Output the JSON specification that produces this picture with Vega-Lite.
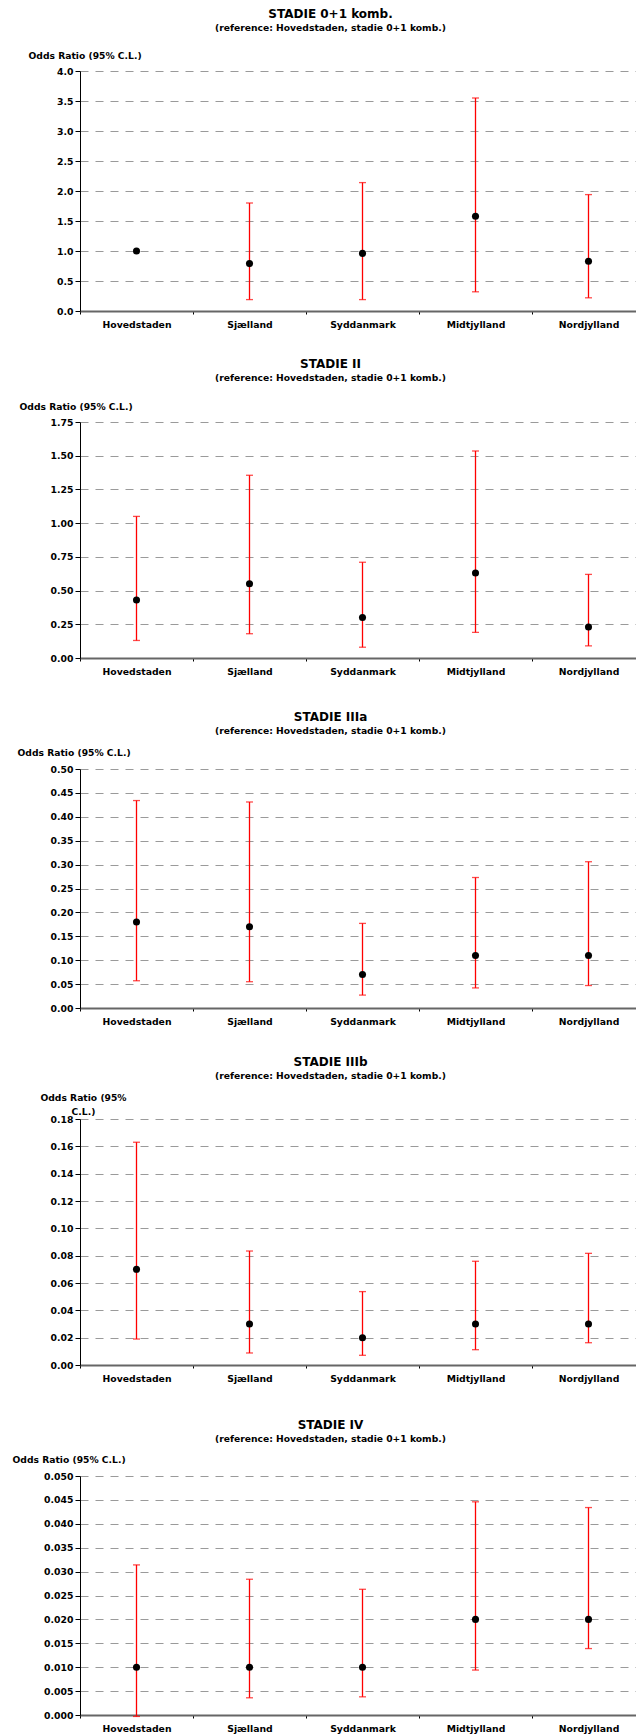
{
  "$schema": "https://vega.github.io/schema/vega-lite/v6.json",
  "padding": {"left": 12, "right": -10, "top": 7, "bottom": 0},
  "background": "white",
  "config": {
    "view": {"stroke": null},
    "font": "DejaVu Sans",
    "title": {"font": "DejaVu Sans", "fontSize": 12, "fontWeight": "bold", "color": "#000", "subtitleFont": "DejaVu Sans", "subtitleFontSize": 9.2, "subtitleFontWeight": "bold", "subtitleColor": "#000", "subtitlePadding": 3, "frame": "group", "anchor": "middle", "dx": -32, "offset": 16},
    "axisY": {"grid": true, "gridColor": "#9a9a9a", "gridDash": [8, 7], "gridWidth": 1.2, "domainColor": "#000", "domainWidth": 1, "tickColor": "#000", "tickSize": 5, "labelPadding": 2, "labelOverlap": false, "labelFont": "DejaVu Sans", "labelFontWeight": "bold", "labelFontSize": 9.3, "labelColor": "#000", "titleFont": "DejaVu Sans", "titleFontWeight": "bold", "titleFontSize": 9.2, "titleColor": "#000", "titleAngle": 0, "titleAlign": "left", "titleBaseline": "middle"},
    "axisX": {"grid": false, "tickBand": "extent", "domainColor": "#666", "domainWidth": 2, "tickColor": "#000", "tickSize": 3, "labelPadding": 6, "labelAngle": 0, "labelOverlap": false, "labelFont": "DejaVu Sans", "labelFontWeight": "bold", "labelFontSize": 9.3, "labelColor": "#000", "title": null}
  },
  "bounds": "flush",
  "spacing": 111,
  "vconcat": [
    {
      "width": 565, "height": 240,
      "title": {"text": "STADIE 0+1 komb.", "subtitle": "(reference: Hovedstaden, stadie 0+1 komb.)", "offset": 17},
      "data": {"values": [
        {"region": "Hovedstaden", "or": 1.0, "lo": null, "hi": null},
        {"region": "Sjælland", "or": 0.79, "lo": 0.19, "hi": 1.80},
        {"region": "Syddanmark", "or": 0.96, "lo": 0.19, "hi": 2.14},
        {"region": "Midtjylland", "or": 1.58, "lo": 0.32, "hi": 3.55},
        {"region": "Nordjylland", "or": 0.83, "lo": 0.22, "hi": 1.94}
      ]},
      "encoding": {"x": {"field": "region", "type": "nominal", "sort": null, "scale": {"type": "band", "paddingInner": 0, "paddingOuter": 0, "domain": ["Hovedstaden", "Sjælland", "Syddanmark", "Midtjylland", "Nordjylland"]}}},
      "layer": [
        {"mark": {"type": "rule", "color": "#ff0000", "strokeWidth": 1.3},
         "encoding": {"y": {"field": "lo", "type": "quantitative", "title": "Odds Ratio (95% C.L.)", "scale": {"domain": [0, 4], "nice": false}, "axis": {"values": [0, 0.5, 1, 1.5, 2, 2.5, 3, 3.5, 4], "format": ".1f", "titleX": -52, "titleY": -16}}, "y2": {"field": "hi"}}},
        {"mark": {"type": "tick", "color": "#ff0000", "size": 7, "thickness": 1.3}, "encoding": {"y": {"field": "lo", "type": "quantitative", "title": "Odds Ratio (95% C.L.)", "axis": {"values": [0, 0.5, 1, 1.5, 2, 2.5, 3, 3.5, 4], "format": ".1f", "titleX": -52, "titleY": -16}}}},
        {"mark": {"type": "tick", "color": "#ff0000", "size": 7, "thickness": 1.3}, "encoding": {"y": {"field": "hi", "type": "quantitative", "title": "Odds Ratio (95% C.L.)", "axis": {"values": [0, 0.5, 1, 1.5, 2, 2.5, 3, 3.5, 4], "format": ".1f", "titleX": -52, "titleY": -16}}}},
        {"mark": {"type": "point", "filled": true, "color": "#000", "opacity": 1, "size": 50}, "encoding": {"y": {"field": "or", "type": "quantitative", "title": "Odds Ratio (95% C.L.)", "axis": {"values": [0, 0.5, 1, 1.5, 2, 2.5, 3, 3.5, 4], "format": ".1f", "titleX": -52, "titleY": -16}}}}
      ]
    },
    {
      "width": 565, "height": 236,
      "title": {"text": "STADIE II", "subtitle": "(reference: Hovedstaden, stadie 0+1 komb.)", "offset": 18},
      "data": {"values": [
        {"region": "Hovedstaden", "or": 0.43, "lo": 0.13, "hi": 1.05},
        {"region": "Sjælland", "or": 0.55, "lo": 0.18, "hi": 1.355},
        {"region": "Syddanmark", "or": 0.30, "lo": 0.08, "hi": 0.71},
        {"region": "Midtjylland", "or": 0.63, "lo": 0.19, "hi": 1.535},
        {"region": "Nordjylland", "or": 0.23, "lo": 0.09, "hi": 0.62}
      ]},
      "encoding": {"x": {"field": "region", "type": "nominal", "sort": null, "scale": {"type": "band", "paddingInner": 0, "paddingOuter": 0, "domain": ["Hovedstaden", "Sjælland", "Syddanmark", "Midtjylland", "Nordjylland"]}}},
      "layer": [
        {"mark": {"type": "rule", "color": "#ff0000", "strokeWidth": 1.3},
         "encoding": {"y": {"field": "lo", "type": "quantitative", "title": "Odds Ratio (95% C.L.)", "scale": {"domain": [0, 1.75], "nice": false}, "axis": {"values": [0, 0.25, 0.5, 0.75, 1, 1.25, 1.5, 1.75], "format": ".2f", "titleX": -61, "titleY": -16}}, "y2": {"field": "hi"}}},
        {"mark": {"type": "tick", "color": "#ff0000", "size": 7, "thickness": 1.3}, "encoding": {"y": {"field": "lo", "type": "quantitative", "title": "Odds Ratio (95% C.L.)", "axis": {"values": [0, 0.25, 0.5, 0.75, 1, 1.25, 1.5, 1.75], "format": ".2f", "titleX": -61, "titleY": -16}}}},
        {"mark": {"type": "tick", "color": "#ff0000", "size": 7, "thickness": 1.3}, "encoding": {"y": {"field": "hi", "type": "quantitative", "title": "Odds Ratio (95% C.L.)", "axis": {"values": [0, 0.25, 0.5, 0.75, 1, 1.25, 1.5, 1.75], "format": ".2f", "titleX": -61, "titleY": -16}}}},
        {"mark": {"type": "point", "filled": true, "color": "#000", "opacity": 1, "size": 50}, "encoding": {"y": {"field": "or", "type": "quantitative", "title": "Odds Ratio (95% C.L.)", "axis": {"values": [0, 0.25, 0.5, 0.75, 1, 1.25, 1.5, 1.75], "format": ".2f", "titleX": -61, "titleY": -16}}}}
      ]
    },
    {
      "width": 565, "height": 239,
      "title": {"text": "STADIE IIIa", "subtitle": "(reference: Hovedstaden, stadie 0+1 komb.)", "offset": 11},
      "data": {"values": [
        {"region": "Hovedstaden", "or": 0.18, "lo": 0.057, "hi": 0.434},
        {"region": "Sjælland", "or": 0.17, "lo": 0.055, "hi": 0.431},
        {"region": "Syddanmark", "or": 0.07, "lo": 0.027, "hi": 0.177},
        {"region": "Midtjylland", "or": 0.11, "lo": 0.042, "hi": 0.273},
        {"region": "Nordjylland", "or": 0.11, "lo": 0.047, "hi": 0.306}
      ]},
      "encoding": {"x": {"field": "region", "type": "nominal", "sort": null, "scale": {"type": "band", "paddingInner": 0, "paddingOuter": 0, "domain": ["Hovedstaden", "Sjælland", "Syddanmark", "Midtjylland", "Nordjylland"]}}},
      "layer": [
        {"mark": {"type": "rule", "color": "#ff0000", "strokeWidth": 1.3},
         "encoding": {"y": {"field": "lo", "type": "quantitative", "title": "Odds Ratio (95% C.L.)", "scale": {"domain": [0, 0.5], "nice": false}, "axis": {"values": [0, 0.05, 0.1, 0.15, 0.2, 0.25, 0.3, 0.35, 0.4, 0.45, 0.5], "format": ".2f", "titleX": -63, "titleY": -17}}, "y2": {"field": "hi"}}},
        {"mark": {"type": "tick", "color": "#ff0000", "size": 7, "thickness": 1.3}, "encoding": {"y": {"field": "lo", "type": "quantitative", "title": "Odds Ratio (95% C.L.)", "axis": {"values": [0, 0.05, 0.1, 0.15, 0.2, 0.25, 0.3, 0.35, 0.4, 0.45, 0.5], "format": ".2f", "titleX": -63, "titleY": -17}}}},
        {"mark": {"type": "tick", "color": "#ff0000", "size": 7, "thickness": 1.3}, "encoding": {"y": {"field": "hi", "type": "quantitative", "title": "Odds Ratio (95% C.L.)", "axis": {"values": [0, 0.05, 0.1, 0.15, 0.2, 0.25, 0.3, 0.35, 0.4, 0.45, 0.5], "format": ".2f", "titleX": -63, "titleY": -17}}}},
        {"mark": {"type": "point", "filled": true, "color": "#000", "opacity": 1, "size": 50}, "encoding": {"y": {"field": "or", "type": "quantitative", "title": "Odds Ratio (95% C.L.)", "axis": {"values": [0, 0.05, 0.1, 0.15, 0.2, 0.25, 0.3, 0.35, 0.4, 0.45, 0.5], "format": ".2f", "titleX": -63, "titleY": -17}}}}
      ]
    },
    {
      "width": 565, "height": 246,
      "title": {"text": "STADIE IIIb", "subtitle": "(reference: Hovedstaden, stadie 0+1 komb.)", "offset": 11},
      "data": {"values": [
        {"region": "Hovedstaden", "or": 0.07, "lo": 0.019, "hi": 0.163},
        {"region": "Sjælland", "or": 0.03, "lo": 0.0088, "hi": 0.0834},
        {"region": "Syddanmark", "or": 0.02, "lo": 0.0071, "hi": 0.0537},
        {"region": "Midtjylland", "or": 0.03, "lo": 0.0112, "hi": 0.0759},
        {"region": "Nordjylland", "or": 0.03, "lo": 0.0163, "hi": 0.0817}
      ]},
      "encoding": {"x": {"field": "region", "type": "nominal", "sort": null, "scale": {"type": "band", "paddingInner": 0, "paddingOuter": 0, "domain": ["Hovedstaden", "Sjælland", "Syddanmark", "Midtjylland", "Nordjylland"]}}},
      "layer": [
        {"mark": {"type": "rule", "color": "#ff0000", "strokeWidth": 1.3},
         "encoding": {"y": {"field": "lo", "type": "quantitative", "title": ["Odds Ratio (95%", "C.L.)"], "scale": {"domain": [0, 0.18], "nice": false}, "axis": {"values": [0, 0.02, 0.04, 0.06, 0.08, 0.1, 0.12, 0.14, 0.16, 0.18], "format": ".2f", "titleX": 3, "titleY": -22, "titleAlign": "center", "titleLineHeight": 14}}, "y2": {"field": "hi"}}},
        {"mark": {"type": "tick", "color": "#ff0000", "size": 7, "thickness": 1.3}, "encoding": {"y": {"field": "lo", "type": "quantitative", "title": ["Odds Ratio (95%", "C.L.)"], "axis": {"values": [0, 0.02, 0.04, 0.06, 0.08, 0.1, 0.12, 0.14, 0.16, 0.18], "format": ".2f", "titleX": 3, "titleY": -22, "titleAlign": "center", "titleLineHeight": 14}}}},
        {"mark": {"type": "tick", "color": "#ff0000", "size": 7, "thickness": 1.3}, "encoding": {"y": {"field": "hi", "type": "quantitative", "title": ["Odds Ratio (95%", "C.L.)"], "axis": {"values": [0, 0.02, 0.04, 0.06, 0.08, 0.1, 0.12, 0.14, 0.16, 0.18], "format": ".2f", "titleX": 3, "titleY": -22, "titleAlign": "center", "titleLineHeight": 14}}}},
        {"mark": {"type": "point", "filled": true, "color": "#000", "opacity": 1, "size": 50}, "encoding": {"y": {"field": "or", "type": "quantitative", "title": ["Odds Ratio (95%", "C.L.)"], "axis": {"values": [0, 0.02, 0.04, 0.06, 0.08, 0.1, 0.12, 0.14, 0.16, 0.18], "format": ".2f", "titleX": 3, "titleY": -22, "titleAlign": "center", "titleLineHeight": 14}}}}
      ]
    },
    {
      "width": 565, "height": 239,
      "title": {"text": "STADIE IV", "subtitle": "(reference: Hovedstaden, stadie 0+1 komb.)", "offset": 10},
      "data": {"values": [
        {"region": "Hovedstaden", "or": 0.01, "lo": -0.0003, "hi": 0.0314},
        {"region": "Sjælland", "or": 0.01, "lo": 0.0036, "hi": 0.0284},
        {"region": "Syddanmark", "or": 0.01, "lo": 0.0038, "hi": 0.0263},
        {"region": "Midtjylland", "or": 0.02, "lo": 0.0094, "hi": 0.0446},
        {"region": "Nordjylland", "or": 0.02, "lo": 0.0139, "hi": 0.0434}
      ]},
      "encoding": {"x": {"field": "region", "type": "nominal", "sort": null, "scale": {"type": "band", "paddingInner": 0, "paddingOuter": 0, "domain": ["Hovedstaden", "Sjælland", "Syddanmark", "Midtjylland", "Nordjylland"]}}},
      "layer": [
        {"mark": {"type": "rule", "color": "#ff0000", "strokeWidth": 1.3},
         "encoding": {"y": {"field": "lo", "type": "quantitative", "title": "Odds Ratio (95% C.L.)", "scale": {"domain": [0, 0.05], "nice": false}, "axis": {"values": [0, 0.005, 0.01, 0.015, 0.02, 0.025, 0.03, 0.035, 0.04, 0.045, 0.05], "format": ".3f", "titleX": -68, "titleY": -17}}, "y2": {"field": "hi"}}},
        {"mark": {"type": "tick", "color": "#ff0000", "size": 7, "thickness": 1.3}, "encoding": {"y": {"field": "lo", "type": "quantitative", "title": "Odds Ratio (95% C.L.)", "axis": {"values": [0, 0.005, 0.01, 0.015, 0.02, 0.025, 0.03, 0.035, 0.04, 0.045, 0.05], "format": ".3f", "titleX": -68, "titleY": -17}}}},
        {"mark": {"type": "tick", "color": "#ff0000", "size": 7, "thickness": 1.3}, "encoding": {"y": {"field": "hi", "type": "quantitative", "title": "Odds Ratio (95% C.L.)", "axis": {"values": [0, 0.005, 0.01, 0.015, 0.02, 0.025, 0.03, 0.035, 0.04, 0.045, 0.05], "format": ".3f", "titleX": -68, "titleY": -17}}}},
        {"mark": {"type": "point", "filled": true, "color": "#000", "opacity": 1, "size": 50}, "encoding": {"y": {"field": "or", "type": "quantitative", "title": "Odds Ratio (95% C.L.)", "axis": {"values": [0, 0.005, 0.01, 0.015, 0.02, 0.025, 0.03, 0.035, 0.04, 0.045, 0.05], "format": ".3f", "titleX": -68, "titleY": -17}}}}
      ]
    }
  ]
}
